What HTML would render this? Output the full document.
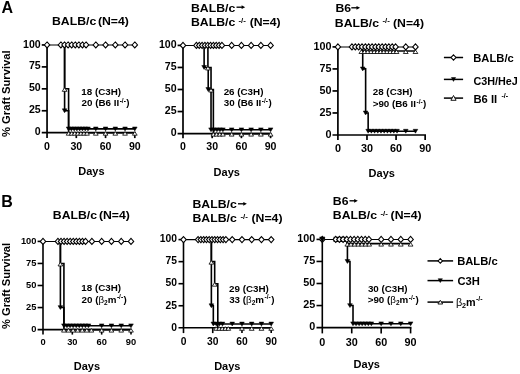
<!DOCTYPE html><html><head><meta charset="utf-8"><style>html,body{margin:0;padding:0;background:#fff;width:520px;height:374px;overflow:hidden;}body{position:relative;font-family:"Liberation Sans",sans-serif;}</style></head><body><svg width="520" height="374" viewBox="0 0 520 374" style="position:absolute;left:0;top:0;display:block;will-change:transform"><g stroke="#000" fill="none" stroke-linecap="butt"><line x1="47.05" y1="44.95" x2="47.05" y2="138.10" stroke-width="1.7"/><line x1="41.75" y1="132.70" x2="135.65" y2="132.70" stroke-width="1.7"/><line x1="41.75" y1="44.95" x2="47.05" y2="44.95" stroke-width="1.7"/><line x1="41.75" y1="66.89" x2="47.05" y2="66.89" stroke-width="1.7"/><line x1="41.75" y1="88.82" x2="47.05" y2="88.82" stroke-width="1.7"/><line x1="41.75" y1="110.76" x2="47.05" y2="110.76" stroke-width="1.7"/><line x1="76.30" y1="132.70" x2="76.30" y2="138.10" stroke-width="1.7"/><line x1="105.55" y1="132.70" x2="105.55" y2="138.10" stroke-width="1.7"/><line x1="134.80" y1="132.70" x2="134.80" y2="138.10" stroke-width="1.7"/><line x1="183.00" y1="45.40" x2="183.00" y2="138.20" stroke-width="1.7"/><line x1="177.60" y1="133.60" x2="271.45" y2="133.60" stroke-width="1.7"/><line x1="177.60" y1="45.40" x2="183.00" y2="45.40" stroke-width="1.7"/><line x1="177.60" y1="67.45" x2="183.00" y2="67.45" stroke-width="1.7"/><line x1="177.60" y1="89.50" x2="183.00" y2="89.50" stroke-width="1.7"/><line x1="177.60" y1="111.55" x2="183.00" y2="111.55" stroke-width="1.7"/><line x1="212.20" y1="133.60" x2="212.20" y2="138.20" stroke-width="1.7"/><line x1="241.40" y1="133.60" x2="241.40" y2="138.20" stroke-width="1.7"/><line x1="270.60" y1="133.60" x2="270.60" y2="138.20" stroke-width="1.7"/><line x1="337.90" y1="46.90" x2="337.90" y2="140.10" stroke-width="1.7"/><line x1="332.50" y1="135.00" x2="426.00" y2="135.00" stroke-width="1.7"/><line x1="332.50" y1="46.90" x2="337.90" y2="46.90" stroke-width="1.7"/><line x1="332.50" y1="68.92" x2="337.90" y2="68.92" stroke-width="1.7"/><line x1="332.50" y1="90.95" x2="337.90" y2="90.95" stroke-width="1.7"/><line x1="332.50" y1="112.97" x2="337.90" y2="112.97" stroke-width="1.7"/><line x1="366.98" y1="135.00" x2="366.98" y2="140.10" stroke-width="1.7"/><line x1="396.07" y1="135.00" x2="396.07" y2="140.10" stroke-width="1.7"/><line x1="425.15" y1="135.00" x2="425.15" y2="140.10" stroke-width="1.7"/><line x1="43.00" y1="241.40" x2="43.00" y2="334.60" stroke-width="1.6"/><line x1="37.60" y1="329.60" x2="131.85" y2="329.60" stroke-width="1.6"/><line x1="37.60" y1="241.40" x2="43.00" y2="241.40" stroke-width="1.6"/><line x1="37.60" y1="263.45" x2="43.00" y2="263.45" stroke-width="1.6"/><line x1="37.60" y1="285.50" x2="43.00" y2="285.50" stroke-width="1.6"/><line x1="37.60" y1="307.55" x2="43.00" y2="307.55" stroke-width="1.6"/><line x1="72.33" y1="329.60" x2="72.33" y2="334.60" stroke-width="1.6"/><line x1="101.67" y1="329.60" x2="101.67" y2="334.60" stroke-width="1.6"/><line x1="131.00" y1="329.60" x2="131.00" y2="334.60" stroke-width="1.6"/><line x1="183.50" y1="239.60" x2="183.50" y2="333.10" stroke-width="1.6"/><line x1="178.50" y1="327.80" x2="272.05" y2="327.80" stroke-width="1.6"/><line x1="178.50" y1="239.60" x2="183.50" y2="239.60" stroke-width="1.6"/><line x1="178.50" y1="261.65" x2="183.50" y2="261.65" stroke-width="1.6"/><line x1="178.50" y1="283.70" x2="183.50" y2="283.70" stroke-width="1.6"/><line x1="178.50" y1="305.75" x2="183.50" y2="305.75" stroke-width="1.6"/><line x1="212.73" y1="327.80" x2="212.73" y2="333.10" stroke-width="1.6"/><line x1="241.97" y1="327.80" x2="241.97" y2="333.10" stroke-width="1.6"/><line x1="271.20" y1="327.80" x2="271.20" y2="333.10" stroke-width="1.6"/><line x1="322.30" y1="239.40" x2="322.30" y2="333.40" stroke-width="1.6"/><line x1="316.50" y1="327.60" x2="411.45" y2="327.60" stroke-width="1.6"/><line x1="316.50" y1="239.40" x2="322.30" y2="239.40" stroke-width="1.6"/><line x1="316.50" y1="261.45" x2="322.30" y2="261.45" stroke-width="1.6"/><line x1="316.50" y1="283.50" x2="322.30" y2="283.50" stroke-width="1.6"/><line x1="316.50" y1="305.55" x2="322.30" y2="305.55" stroke-width="1.6"/><line x1="351.73" y1="327.60" x2="351.73" y2="333.40" stroke-width="1.6"/><line x1="381.17" y1="327.60" x2="381.17" y2="333.40" stroke-width="1.6"/><line x1="410.60" y1="327.60" x2="410.60" y2="333.40" stroke-width="1.6"/><line x1="47.05" y1="44.95" x2="134.80" y2="44.95" stroke-width="1.05"/><path d="M64.60,44.95 L64.60,110.76 L68.60,110.76 L68.60,128.90 L134.80,128.90" fill="none" stroke-width="1.6"/><path d="M64.60,44.95 L64.60,88.82 L68.60,88.82 L68.60,132.70 L134.80,132.70" fill="none" stroke-width="1.6"/><path d="M47.05,41.95 L49.80,44.95 L47.05,47.95 L44.30,44.95 Z" fill="#fff" stroke-width="1.05"/><path d="M60.89,41.95 L63.64,44.95 L60.89,47.95 L58.14,44.95 Z" fill="#fff" stroke-width="1.05"/><path d="M64.49,41.95 L67.24,44.95 L64.49,47.95 L61.74,44.95 Z" fill="#fff" stroke-width="1.05"/><path d="M68.08,41.95 L70.83,44.95 L68.08,47.95 L65.33,44.95 Z" fill="#fff" stroke-width="1.05"/><path d="M71.68,41.95 L74.43,44.95 L71.68,47.95 L68.93,44.95 Z" fill="#fff" stroke-width="1.05"/><path d="M75.27,41.95 L78.02,44.95 L75.27,47.95 L72.52,44.95 Z" fill="#fff" stroke-width="1.05"/><path d="M78.86,41.95 L81.61,44.95 L78.86,47.95 L76.11,44.95 Z" fill="#fff" stroke-width="1.05"/><path d="M82.46,41.95 L85.21,44.95 L82.46,47.95 L79.71,44.95 Z" fill="#fff" stroke-width="1.05"/><path d="M86.05,41.95 L88.80,44.95 L86.05,47.95 L83.30,44.95 Z" fill="#fff" stroke-width="1.05"/><path d="M95.80,41.95 L98.55,44.95 L95.80,47.95 L93.05,44.95 Z" fill="#fff" stroke-width="1.05"/><path d="M105.55,41.95 L108.30,44.95 L105.55,47.95 L102.80,44.95 Z" fill="#fff" stroke-width="1.05"/><path d="M115.30,41.95 L118.05,44.95 L115.30,47.95 L112.55,44.95 Z" fill="#fff" stroke-width="1.05"/><path d="M125.05,41.95 L127.80,44.95 L125.05,47.95 L122.30,44.95 Z" fill="#fff" stroke-width="1.05"/><path d="M134.80,41.95 L137.55,44.95 L134.80,47.95 L132.05,44.95 Z" fill="#fff" stroke-width="1.05"/><path d="M62.25,108.86 L66.95,108.86 L64.60,112.76 Z" fill="#000" stroke-width="0.5"/><path d="M66.25,127.00 L70.95,127.00 L68.60,130.90 Z" fill="#000" stroke-width="0.5"/><path d="M69.02,127.00 L73.72,127.00 L71.37,130.90 Z" fill="#000" stroke-width="0.5"/><path d="M71.79,127.00 L76.49,127.00 L74.14,130.90 Z" fill="#000" stroke-width="0.5"/><path d="M74.56,127.00 L79.26,127.00 L76.91,130.90 Z" fill="#000" stroke-width="0.5"/><path d="M77.33,127.00 L82.03,127.00 L79.68,130.90 Z" fill="#000" stroke-width="0.5"/><path d="M80.11,127.00 L84.81,127.00 L82.46,130.90 Z" fill="#000" stroke-width="0.5"/><path d="M82.88,127.00 L87.58,127.00 L85.23,130.90 Z" fill="#000" stroke-width="0.5"/><path d="M85.65,127.00 L90.35,127.00 L88.00,130.90 Z" fill="#000" stroke-width="0.5"/><path d="M93.45,127.00 L98.15,127.00 L95.80,130.90 Z" fill="#000" stroke-width="0.5"/><path d="M103.20,127.00 L107.90,127.00 L105.55,130.90 Z" fill="#000" stroke-width="0.5"/><path d="M112.95,127.00 L117.65,127.00 L115.30,130.90 Z" fill="#000" stroke-width="0.5"/><path d="M122.70,127.00 L127.40,127.00 L125.05,130.90 Z" fill="#000" stroke-width="0.5"/><path d="M132.45,127.00 L137.15,127.00 L134.80,130.90 Z" fill="#000" stroke-width="0.5"/><path d="M64.60,87.72 L67.00,91.32 L62.20,91.32 Z" fill="#fff" stroke-width="0.8"/><path d="M68.60,131.60 L71.00,135.20 L66.20,135.20 Z" fill="#fff" stroke-width="0.8"/><path d="M71.67,131.60 L74.07,135.20 L69.27,135.20 Z" fill="#fff" stroke-width="0.8"/><path d="M74.74,131.60 L77.14,135.20 L72.34,135.20 Z" fill="#fff" stroke-width="0.8"/><path d="M77.81,131.60 L80.21,135.20 L75.41,135.20 Z" fill="#fff" stroke-width="0.8"/><path d="M80.88,131.60 L83.28,135.20 L78.48,135.20 Z" fill="#fff" stroke-width="0.8"/><path d="M83.95,131.60 L86.35,135.20 L81.55,135.20 Z" fill="#fff" stroke-width="0.8"/><path d="M87.03,131.60 L89.43,135.20 L84.62,135.20 Z" fill="#fff" stroke-width="0.8"/><path d="M95.80,131.60 L98.20,135.20 L93.40,135.20 Z" fill="#fff" stroke-width="0.8"/><path d="M105.55,131.60 L107.95,135.20 L103.15,135.20 Z" fill="#fff" stroke-width="0.8"/><path d="M115.30,131.60 L117.70,135.20 L112.90,135.20 Z" fill="#fff" stroke-width="0.8"/><path d="M125.05,131.60 L127.45,135.20 L122.65,135.20 Z" fill="#fff" stroke-width="0.8"/><path d="M134.80,131.60 L137.20,135.20 L132.40,135.20 Z" fill="#fff" stroke-width="0.8"/><line x1="183.00" y1="45.40" x2="270.60" y2="45.40" stroke-width="1.05"/><path d="M204.12,45.40 L204.12,67.45 L208.21,67.45 L208.21,89.50 L211.03,89.50 L211.03,129.80 L270.60,129.80" fill="none" stroke-width="1.6"/><path d="M207.92,45.40 L207.92,67.45 L211.03,67.45 L211.03,89.50 L213.37,89.50 L213.37,133.60 L270.60,133.60" fill="none" stroke-width="1.6"/><path d="M183.00,42.40 L185.75,45.40 L183.00,48.40 L180.25,45.40 Z" fill="#fff" stroke-width="1.05"/><path d="M196.43,42.40 L199.18,45.40 L196.43,48.40 L193.68,45.40 Z" fill="#fff" stroke-width="1.05"/><path d="M199.27,42.40 L202.02,45.40 L199.27,48.40 L196.52,45.40 Z" fill="#fff" stroke-width="1.05"/><path d="M202.10,42.40 L204.85,45.40 L202.10,48.40 L199.35,45.40 Z" fill="#fff" stroke-width="1.05"/><path d="M204.93,42.40 L207.68,45.40 L204.93,48.40 L202.18,45.40 Z" fill="#fff" stroke-width="1.05"/><path d="M207.77,42.40 L210.52,45.40 L207.77,48.40 L205.02,45.40 Z" fill="#fff" stroke-width="1.05"/><path d="M210.60,42.40 L213.35,45.40 L210.60,48.40 L207.85,45.40 Z" fill="#fff" stroke-width="1.05"/><path d="M213.43,42.40 L216.18,45.40 L213.43,48.40 L210.68,45.40 Z" fill="#fff" stroke-width="1.05"/><path d="M216.27,42.40 L219.02,45.40 L216.27,48.40 L213.52,45.40 Z" fill="#fff" stroke-width="1.05"/><path d="M219.10,42.40 L221.85,45.40 L219.10,48.40 L216.35,45.40 Z" fill="#fff" stroke-width="1.05"/><path d="M221.93,42.40 L224.68,45.40 L221.93,48.40 L219.18,45.40 Z" fill="#fff" stroke-width="1.05"/><path d="M231.67,42.40 L234.42,45.40 L231.67,48.40 L228.92,45.40 Z" fill="#fff" stroke-width="1.05"/><path d="M241.40,42.40 L244.15,45.40 L241.40,48.40 L238.65,45.40 Z" fill="#fff" stroke-width="1.05"/><path d="M251.13,42.40 L253.88,45.40 L251.13,48.40 L248.38,45.40 Z" fill="#fff" stroke-width="1.05"/><path d="M260.87,42.40 L263.62,45.40 L260.87,48.40 L258.12,45.40 Z" fill="#fff" stroke-width="1.05"/><path d="M270.60,42.40 L273.35,45.40 L270.60,48.40 L267.85,45.40 Z" fill="#fff" stroke-width="1.05"/><path d="M201.77,65.55 L206.47,65.55 L204.12,69.45 Z" fill="#000" stroke-width="0.5"/><path d="M205.86,87.60 L210.56,87.60 L208.21,91.50 Z" fill="#000" stroke-width="0.5"/><path d="M208.68,127.90 L213.38,127.90 L211.03,131.80 Z" fill="#000" stroke-width="0.5"/><path d="M211.65,127.90 L216.35,127.90 L214.00,131.80 Z" fill="#000" stroke-width="0.5"/><path d="M214.62,127.90 L219.32,127.90 L216.97,131.80 Z" fill="#000" stroke-width="0.5"/><path d="M217.59,127.90 L222.29,127.90 L219.94,131.80 Z" fill="#000" stroke-width="0.5"/><path d="M220.56,127.90 L225.26,127.90 L222.91,131.80 Z" fill="#000" stroke-width="0.5"/><path d="M229.32,127.90 L234.02,127.90 L231.67,131.80 Z" fill="#000" stroke-width="0.5"/><path d="M239.05,127.90 L243.75,127.90 L241.40,131.80 Z" fill="#000" stroke-width="0.5"/><path d="M248.78,127.90 L253.48,127.90 L251.13,131.80 Z" fill="#000" stroke-width="0.5"/><path d="M258.52,127.90 L263.22,127.90 L260.87,131.80 Z" fill="#000" stroke-width="0.5"/><path d="M268.25,127.90 L272.95,127.90 L270.60,131.80 Z" fill="#000" stroke-width="0.5"/><path d="M207.92,66.35 L210.32,69.95 L205.52,69.95 Z" fill="#fff" stroke-width="0.8"/><path d="M211.03,88.40 L213.43,92.00 L208.63,92.00 Z" fill="#fff" stroke-width="0.8"/><path d="M213.37,132.50 L215.77,136.10 L210.97,136.10 Z" fill="#fff" stroke-width="0.8"/><path d="M216.55,132.50 L218.95,136.10 L214.15,136.10 Z" fill="#fff" stroke-width="0.8"/><path d="M219.73,132.50 L222.13,136.10 L217.33,136.10 Z" fill="#fff" stroke-width="0.8"/><path d="M222.91,132.50 L225.31,136.10 L220.51,136.10 Z" fill="#fff" stroke-width="0.8"/><path d="M231.67,132.50 L234.07,136.10 L229.27,136.10 Z" fill="#fff" stroke-width="0.8"/><path d="M241.40,132.50 L243.80,136.10 L239.00,136.10 Z" fill="#fff" stroke-width="0.8"/><path d="M251.13,132.50 L253.53,136.10 L248.73,136.10 Z" fill="#fff" stroke-width="0.8"/><path d="M260.87,132.50 L263.27,136.10 L258.47,136.10 Z" fill="#fff" stroke-width="0.8"/><path d="M270.60,132.50 L273.00,136.10 L268.20,136.10 Z" fill="#fff" stroke-width="0.8"/><line x1="337.90" y1="46.90" x2="415.46" y2="46.90" stroke-width="1.05"/><path d="M362.72,46.90 L362.72,68.92 L365.63,68.92 L365.63,112.97 L368.15,112.97 L368.15,131.20 L415.46,131.20" fill="none" stroke-width="1.6"/><path d="M360.97,51.00 L415.46,51.00" fill="none" stroke-width="1.6"/><path d="M337.90,43.90 L340.65,46.90 L337.90,49.90 L335.15,46.90 Z" fill="#fff" stroke-width="1.05"/><path d="M351.96,43.90 L354.71,46.90 L351.96,49.90 L349.21,46.90 Z" fill="#fff" stroke-width="1.05"/><path d="M355.31,43.90 L358.06,46.90 L355.31,49.90 L352.56,46.90 Z" fill="#fff" stroke-width="1.05"/><path d="M358.67,43.90 L361.42,46.90 L358.67,49.90 L355.92,46.90 Z" fill="#fff" stroke-width="1.05"/><path d="M362.02,43.90 L364.77,46.90 L362.02,49.90 L359.27,46.90 Z" fill="#fff" stroke-width="1.05"/><path d="M365.38,43.90 L368.13,46.90 L365.38,49.90 L362.63,46.90 Z" fill="#fff" stroke-width="1.05"/><path d="M368.74,43.90 L371.49,46.90 L368.74,49.90 L365.99,46.90 Z" fill="#fff" stroke-width="1.05"/><path d="M372.09,43.90 L374.84,46.90 L372.09,49.90 L369.34,46.90 Z" fill="#fff" stroke-width="1.05"/><path d="M375.45,43.90 L378.20,46.90 L375.45,49.90 L372.70,46.90 Z" fill="#fff" stroke-width="1.05"/><path d="M378.80,43.90 L381.55,46.90 L378.80,49.90 L376.05,46.90 Z" fill="#fff" stroke-width="1.05"/><path d="M382.16,43.90 L384.91,46.90 L382.16,49.90 L379.41,46.90 Z" fill="#fff" stroke-width="1.05"/><path d="M385.51,43.90 L388.26,46.90 L385.51,49.90 L382.76,46.90 Z" fill="#fff" stroke-width="1.05"/><path d="M388.87,43.90 L391.62,46.90 L388.87,49.90 L386.12,46.90 Z" fill="#fff" stroke-width="1.05"/><path d="M392.23,43.90 L394.98,46.90 L392.23,49.90 L389.48,46.90 Z" fill="#fff" stroke-width="1.05"/><path d="M395.58,43.90 L398.33,46.90 L395.58,49.90 L392.83,46.90 Z" fill="#fff" stroke-width="1.05"/><path d="M405.76,43.90 L408.51,46.90 L405.76,49.90 L403.01,46.90 Z" fill="#fff" stroke-width="1.05"/><path d="M415.46,43.90 L418.21,46.90 L415.46,49.90 L412.71,46.90 Z" fill="#fff" stroke-width="1.05"/><path d="M360.37,67.02 L365.07,67.02 L362.72,70.92 Z" fill="#000" stroke-width="0.5"/><path d="M363.28,111.07 L367.98,111.07 L365.63,114.97 Z" fill="#000" stroke-width="0.5"/><path d="M365.80,129.30 L370.50,129.30 L368.15,133.20 Z" fill="#000" stroke-width="0.5"/><path d="M369.01,129.30 L373.71,129.30 L371.36,133.20 Z" fill="#000" stroke-width="0.5"/><path d="M372.22,129.30 L376.92,129.30 L374.57,133.20 Z" fill="#000" stroke-width="0.5"/><path d="M375.43,129.30 L380.13,129.30 L377.78,133.20 Z" fill="#000" stroke-width="0.5"/><path d="M378.64,129.30 L383.34,129.30 L380.99,133.20 Z" fill="#000" stroke-width="0.5"/><path d="M381.85,129.30 L386.55,129.30 L384.20,133.20 Z" fill="#000" stroke-width="0.5"/><path d="M385.06,129.30 L389.76,129.30 L387.41,133.20 Z" fill="#000" stroke-width="0.5"/><path d="M388.27,129.30 L392.97,129.30 L390.62,133.20 Z" fill="#000" stroke-width="0.5"/><path d="M391.48,129.30 L396.18,129.30 L393.83,133.20 Z" fill="#000" stroke-width="0.5"/><path d="M394.69,129.30 L399.39,129.30 L397.04,133.20 Z" fill="#000" stroke-width="0.5"/><path d="M403.41,129.30 L408.11,129.30 L405.76,133.20 Z" fill="#000" stroke-width="0.5"/><path d="M413.11,129.30 L417.81,129.30 L415.46,133.20 Z" fill="#000" stroke-width="0.5"/><path d="M361.36,49.90 L363.76,53.50 L358.96,53.50 Z" fill="#fff" stroke-width="0.8"/><path d="M364.56,49.90 L366.96,53.50 L362.16,53.50 Z" fill="#fff" stroke-width="0.8"/><path d="M367.76,49.90 L370.16,53.50 L365.36,53.50 Z" fill="#fff" stroke-width="0.8"/><path d="M370.96,49.90 L373.36,53.50 L368.56,53.50 Z" fill="#fff" stroke-width="0.8"/><path d="M374.16,49.90 L376.56,53.50 L371.76,53.50 Z" fill="#fff" stroke-width="0.8"/><path d="M377.36,49.90 L379.76,53.50 L374.96,53.50 Z" fill="#fff" stroke-width="0.8"/><path d="M380.56,49.90 L382.96,53.50 L378.16,53.50 Z" fill="#fff" stroke-width="0.8"/><path d="M383.75,49.90 L386.15,53.50 L381.35,53.50 Z" fill="#fff" stroke-width="0.8"/><path d="M386.95,49.90 L389.35,53.50 L384.55,53.50 Z" fill="#fff" stroke-width="0.8"/><path d="M390.15,49.90 L392.55,53.50 L387.75,53.50 Z" fill="#fff" stroke-width="0.8"/><path d="M393.35,49.90 L395.75,53.50 L390.95,53.50 Z" fill="#fff" stroke-width="0.8"/><path d="M396.55,49.90 L398.95,53.50 L394.15,53.50 Z" fill="#fff" stroke-width="0.8"/><path d="M405.76,49.90 L408.16,53.50 L403.36,53.50 Z" fill="#fff" stroke-width="0.8"/><path d="M415.46,49.90 L417.86,53.50 L413.06,53.50 Z" fill="#fff" stroke-width="0.8"/><line x1="43.00" y1="241.40" x2="131.00" y2="241.40" stroke-width="1.05"/><path d="M60.40,241.40 L60.40,307.55 L63.92,307.55 L63.92,325.80 L131.00,325.80" fill="none" stroke-width="1.6"/><path d="M60.40,241.40 L60.40,263.45 L63.92,263.45 L63.92,329.60 L131.00,329.60" fill="none" stroke-width="1.6"/><path d="M43.00,238.40 L45.75,241.40 L43.00,244.40 L40.25,241.40 Z" fill="#fff" stroke-width="1.05"/><path d="M57.96,238.40 L60.71,241.40 L57.96,244.40 L55.21,241.40 Z" fill="#fff" stroke-width="1.05"/><path d="M61.02,238.40 L63.77,241.40 L61.02,244.40 L58.27,241.40 Z" fill="#fff" stroke-width="1.05"/><path d="M64.09,238.40 L66.84,241.40 L64.09,244.40 L61.34,241.40 Z" fill="#fff" stroke-width="1.05"/><path d="M67.15,238.40 L69.90,241.40 L67.15,244.40 L64.40,241.40 Z" fill="#fff" stroke-width="1.05"/><path d="M70.21,238.40 L72.96,241.40 L70.21,244.40 L67.46,241.40 Z" fill="#fff" stroke-width="1.05"/><path d="M73.28,238.40 L76.03,241.40 L73.28,244.40 L70.53,241.40 Z" fill="#fff" stroke-width="1.05"/><path d="M76.34,238.40 L79.09,241.40 L76.34,244.40 L73.59,241.40 Z" fill="#fff" stroke-width="1.05"/><path d="M79.41,238.40 L82.16,241.40 L79.41,244.40 L76.66,241.40 Z" fill="#fff" stroke-width="1.05"/><path d="M82.47,238.40 L85.22,241.40 L82.47,244.40 L79.72,241.40 Z" fill="#fff" stroke-width="1.05"/><path d="M85.53,238.40 L88.28,241.40 L85.53,244.40 L82.78,241.40 Z" fill="#fff" stroke-width="1.05"/><path d="M91.89,238.40 L94.64,241.40 L91.89,244.40 L89.14,241.40 Z" fill="#fff" stroke-width="1.05"/><path d="M101.67,238.40 L104.42,241.40 L101.67,244.40 L98.92,241.40 Z" fill="#fff" stroke-width="1.05"/><path d="M111.44,238.40 L114.19,241.40 L111.44,244.40 L108.69,241.40 Z" fill="#fff" stroke-width="1.05"/><path d="M121.22,238.40 L123.97,241.40 L121.22,244.40 L118.47,241.40 Z" fill="#fff" stroke-width="1.05"/><path d="M131.00,238.40 L133.75,241.40 L131.00,244.40 L128.25,241.40 Z" fill="#fff" stroke-width="1.05"/><path d="M58.05,305.65 L62.75,305.65 L60.40,309.55 Z" fill="#000" stroke-width="0.5"/><path d="M61.57,323.90 L66.27,323.90 L63.92,327.80 Z" fill="#000" stroke-width="0.5"/><path d="M64.64,323.90 L69.34,323.90 L66.99,327.80 Z" fill="#000" stroke-width="0.5"/><path d="M67.71,323.90 L72.41,323.90 L70.06,327.80 Z" fill="#000" stroke-width="0.5"/><path d="M70.78,323.90 L75.48,323.90 L73.13,327.80 Z" fill="#000" stroke-width="0.5"/><path d="M73.85,323.90 L78.55,323.90 L76.20,327.80 Z" fill="#000" stroke-width="0.5"/><path d="M76.91,323.90 L81.61,323.90 L79.26,327.80 Z" fill="#000" stroke-width="0.5"/><path d="M79.98,323.90 L84.68,323.90 L82.33,327.80 Z" fill="#000" stroke-width="0.5"/><path d="M83.05,323.90 L87.75,323.90 L85.40,327.80 Z" fill="#000" stroke-width="0.5"/><path d="M86.12,323.90 L90.82,323.90 L88.47,327.80 Z" fill="#000" stroke-width="0.5"/><path d="M99.32,323.90 L104.02,323.90 L101.67,327.80 Z" fill="#000" stroke-width="0.5"/><path d="M109.09,323.90 L113.79,323.90 L111.44,327.80 Z" fill="#000" stroke-width="0.5"/><path d="M118.87,323.90 L123.57,323.90 L121.22,327.80 Z" fill="#000" stroke-width="0.5"/><path d="M128.65,323.90 L133.35,323.90 L131.00,327.80 Z" fill="#000" stroke-width="0.5"/><path d="M60.40,262.35 L62.80,265.95 L58.00,265.95 Z" fill="#fff" stroke-width="0.8"/><path d="M63.92,328.50 L66.32,332.10 L61.52,332.10 Z" fill="#fff" stroke-width="0.8"/><path d="M68.50,328.50 L70.90,332.10 L66.10,332.10 Z" fill="#fff" stroke-width="0.8"/><path d="M73.08,328.50 L75.48,332.10 L70.68,332.10 Z" fill="#fff" stroke-width="0.8"/><path d="M77.66,328.50 L80.06,332.10 L75.26,332.10 Z" fill="#fff" stroke-width="0.8"/><path d="M82.24,328.50 L84.64,332.10 L79.84,332.10 Z" fill="#fff" stroke-width="0.8"/><path d="M86.82,328.50 L89.22,332.10 L84.42,332.10 Z" fill="#fff" stroke-width="0.8"/><path d="M91.40,328.50 L93.80,332.10 L89.00,332.10 Z" fill="#fff" stroke-width="0.8"/><path d="M101.67,328.50 L104.07,332.10 L99.27,332.10 Z" fill="#fff" stroke-width="0.8"/><path d="M111.44,328.50 L113.84,332.10 L109.04,332.10 Z" fill="#fff" stroke-width="0.8"/><path d="M121.22,328.50 L123.62,332.10 L118.82,332.10 Z" fill="#fff" stroke-width="0.8"/><path d="M131.00,328.50 L133.40,332.10 L128.60,332.10 Z" fill="#fff" stroke-width="0.8"/><line x1="183.50" y1="239.60" x2="271.20" y2="239.60" stroke-width="1.05"/><path d="M211.37,239.60 L211.37,305.75 L213.32,305.75 L213.32,324.00 L271.20,324.00" fill="none" stroke-width="1.6"/><path d="M211.37,239.60 L211.37,261.65 L214.68,261.65 L214.68,283.70 L217.80,283.70 L217.80,327.80 L271.20,327.80" fill="none" stroke-width="1.6"/><path d="M183.50,236.60 L186.25,239.60 L183.50,242.60 L180.75,239.60 Z" fill="#fff" stroke-width="1.05"/><path d="M198.12,236.60 L200.87,239.60 L198.12,242.60 L195.37,239.60 Z" fill="#fff" stroke-width="1.05"/><path d="M200.89,236.60 L203.64,239.60 L200.89,242.60 L198.14,239.60 Z" fill="#fff" stroke-width="1.05"/><path d="M203.67,236.60 L206.42,239.60 L203.67,242.60 L200.92,239.60 Z" fill="#fff" stroke-width="1.05"/><path d="M206.45,236.60 L209.20,239.60 L206.45,242.60 L203.70,239.60 Z" fill="#fff" stroke-width="1.05"/><path d="M209.23,236.60 L211.98,239.60 L209.23,242.60 L206.48,239.60 Z" fill="#fff" stroke-width="1.05"/><path d="M212.00,236.60 L214.75,239.60 L212.00,242.60 L209.25,239.60 Z" fill="#fff" stroke-width="1.05"/><path d="M214.78,236.60 L217.53,239.60 L214.78,242.60 L212.03,239.60 Z" fill="#fff" stroke-width="1.05"/><path d="M217.56,236.60 L220.31,239.60 L217.56,242.60 L214.81,239.60 Z" fill="#fff" stroke-width="1.05"/><path d="M220.33,236.60 L223.08,239.60 L220.33,242.60 L217.58,239.60 Z" fill="#fff" stroke-width="1.05"/><path d="M223.11,236.60 L225.86,239.60 L223.11,242.60 L220.36,239.60 Z" fill="#fff" stroke-width="1.05"/><path d="M225.89,236.60 L228.64,239.60 L225.89,242.60 L223.14,239.60 Z" fill="#fff" stroke-width="1.05"/><path d="M232.22,236.60 L234.97,239.60 L232.22,242.60 L229.47,239.60 Z" fill="#fff" stroke-width="1.05"/><path d="M241.97,236.60 L244.72,239.60 L241.97,242.60 L239.22,239.60 Z" fill="#fff" stroke-width="1.05"/><path d="M251.71,236.60 L254.46,239.60 L251.71,242.60 L248.96,239.60 Z" fill="#fff" stroke-width="1.05"/><path d="M261.46,236.60 L264.21,239.60 L261.46,242.60 L258.71,239.60 Z" fill="#fff" stroke-width="1.05"/><path d="M271.20,236.60 L273.95,239.60 L271.20,242.60 L268.45,239.60 Z" fill="#fff" stroke-width="1.05"/><path d="M209.02,303.85 L213.72,303.85 L211.37,307.75 Z" fill="#000" stroke-width="0.5"/><path d="M210.97,322.10 L215.67,322.10 L213.32,326.00 Z" fill="#000" stroke-width="0.5"/><path d="M214.02,322.10 L218.72,322.10 L216.37,326.00 Z" fill="#000" stroke-width="0.5"/><path d="M217.07,322.10 L221.77,322.10 L219.42,326.00 Z" fill="#000" stroke-width="0.5"/><path d="M220.13,322.10 L224.83,322.10 L222.48,326.00 Z" fill="#000" stroke-width="0.5"/><path d="M229.87,322.10 L234.57,322.10 L232.22,326.00 Z" fill="#000" stroke-width="0.5"/><path d="M239.62,322.10 L244.32,322.10 L241.97,326.00 Z" fill="#000" stroke-width="0.5"/><path d="M249.36,322.10 L254.06,322.10 L251.71,326.00 Z" fill="#000" stroke-width="0.5"/><path d="M259.11,322.10 L263.81,322.10 L261.46,326.00 Z" fill="#000" stroke-width="0.5"/><path d="M268.85,322.10 L273.55,322.10 L271.20,326.00 Z" fill="#000" stroke-width="0.5"/><path d="M211.37,260.55 L213.77,264.15 L208.97,264.15 Z" fill="#fff" stroke-width="0.8"/><path d="M214.68,282.60 L217.08,286.20 L212.28,286.20 Z" fill="#fff" stroke-width="0.8"/><path d="M216.14,326.70 L218.54,330.30 L213.74,330.30 Z" fill="#fff" stroke-width="0.8"/><path d="M219.19,326.70 L221.59,330.30 L216.79,330.30 Z" fill="#fff" stroke-width="0.8"/><path d="M222.23,326.70 L224.63,330.30 L219.83,330.30 Z" fill="#fff" stroke-width="0.8"/><path d="M225.28,326.70 L227.68,330.30 L222.88,330.30 Z" fill="#fff" stroke-width="0.8"/><path d="M228.32,326.70 L230.72,330.30 L225.92,330.30 Z" fill="#fff" stroke-width="0.8"/><path d="M241.97,326.70 L244.37,330.30 L239.57,330.30 Z" fill="#fff" stroke-width="0.8"/><path d="M251.71,326.70 L254.11,330.30 L249.31,330.30 Z" fill="#fff" stroke-width="0.8"/><path d="M261.46,326.70 L263.86,330.30 L259.06,330.30 Z" fill="#fff" stroke-width="0.8"/><path d="M271.20,326.70 L273.60,330.30 L268.80,330.30 Z" fill="#fff" stroke-width="0.8"/><rect x="333.6" y="236.8" width="12.6" height="5.2" fill="#000" stroke="none"/><line x1="322.30" y1="239.40" x2="410.60" y2="239.40" stroke-width="1.05"/><path d="M347.42,239.40 L347.42,261.45 L349.97,261.45 L349.97,305.55 L353.01,305.55 L353.01,323.80 L410.60,323.80" fill="none" stroke-width="1.6"/><path d="M346.34,243.60 L410.60,243.60" fill="none" stroke-width="1.6"/><path d="M322.30,236.40 L325.05,239.40 L322.30,242.40 L319.55,239.40 Z" fill="#fff" stroke-width="1.05"/><path d="M335.74,236.40 L338.49,239.40 L335.74,242.40 L332.99,239.40 Z" fill="#fff" stroke-width="1.05"/><path d="M339.43,236.40 L342.18,239.40 L339.43,242.40 L336.68,239.40 Z" fill="#fff" stroke-width="1.05"/><path d="M343.11,236.40 L345.86,239.40 L343.11,242.40 L340.36,239.40 Z" fill="#fff" stroke-width="1.05"/><path d="M346.80,236.40 L349.55,239.40 L346.80,242.40 L344.05,239.40 Z" fill="#fff" stroke-width="1.05"/><path d="M350.48,236.40 L353.23,239.40 L350.48,242.40 L347.73,239.40 Z" fill="#fff" stroke-width="1.05"/><path d="M354.16,236.40 L356.91,239.40 L354.16,242.40 L351.41,239.40 Z" fill="#fff" stroke-width="1.05"/><path d="M357.85,236.40 L360.60,239.40 L357.85,242.40 L355.10,239.40 Z" fill="#fff" stroke-width="1.05"/><path d="M361.53,236.40 L364.28,239.40 L361.53,242.40 L358.78,239.40 Z" fill="#fff" stroke-width="1.05"/><path d="M365.22,236.40 L367.97,239.40 L365.22,242.40 L362.47,239.40 Z" fill="#fff" stroke-width="1.05"/><path d="M368.90,236.40 L371.65,239.40 L368.90,242.40 L366.15,239.40 Z" fill="#fff" stroke-width="1.05"/><path d="M381.17,236.40 L383.92,239.40 L381.17,242.40 L378.42,239.40 Z" fill="#fff" stroke-width="1.05"/><path d="M390.98,236.40 L393.73,239.40 L390.98,242.40 L388.23,239.40 Z" fill="#fff" stroke-width="1.05"/><path d="M400.79,236.40 L403.54,239.40 L400.79,242.40 L398.04,239.40 Z" fill="#fff" stroke-width="1.05"/><path d="M410.60,236.40 L413.35,239.40 L410.60,242.40 L407.85,239.40 Z" fill="#fff" stroke-width="1.05"/><path d="M345.07,259.55 L349.77,259.55 L347.42,263.45 Z" fill="#000" stroke-width="0.5"/><path d="M347.62,303.65 L352.32,303.65 L349.97,307.55 Z" fill="#000" stroke-width="0.5"/><path d="M350.66,321.90 L355.36,321.90 L353.01,325.80 Z" fill="#000" stroke-width="0.5"/><path d="M353.72,321.90 L358.42,321.90 L356.07,325.80 Z" fill="#000" stroke-width="0.5"/><path d="M356.77,321.90 L361.47,321.90 L359.12,325.80 Z" fill="#000" stroke-width="0.5"/><path d="M359.83,321.90 L364.53,321.90 L362.18,325.80 Z" fill="#000" stroke-width="0.5"/><path d="M362.89,321.90 L367.59,321.90 L365.24,325.80 Z" fill="#000" stroke-width="0.5"/><path d="M365.95,321.90 L370.65,321.90 L368.30,325.80 Z" fill="#000" stroke-width="0.5"/><path d="M369.01,321.90 L373.71,321.90 L371.36,325.80 Z" fill="#000" stroke-width="0.5"/><path d="M378.82,321.90 L383.52,321.90 L381.17,325.80 Z" fill="#000" stroke-width="0.5"/><path d="M388.63,321.90 L393.33,321.90 L390.98,325.80 Z" fill="#000" stroke-width="0.5"/><path d="M398.44,321.90 L403.14,321.90 L400.79,325.80 Z" fill="#000" stroke-width="0.5"/><path d="M408.25,321.90 L412.95,321.90 L410.60,325.80 Z" fill="#000" stroke-width="0.5"/><path d="M347.32,242.50 L349.72,246.10 L344.92,246.10 Z" fill="#fff" stroke-width="0.8"/><path d="M350.96,242.50 L353.36,246.10 L348.56,246.10 Z" fill="#fff" stroke-width="0.8"/><path d="M354.61,242.50 L357.01,246.10 L352.21,246.10 Z" fill="#fff" stroke-width="0.8"/><path d="M358.26,242.50 L360.66,246.10 L355.86,246.10 Z" fill="#fff" stroke-width="0.8"/><path d="M361.90,242.50 L364.30,246.10 L359.50,246.10 Z" fill="#fff" stroke-width="0.8"/><path d="M365.55,242.50 L367.95,246.10 L363.15,246.10 Z" fill="#fff" stroke-width="0.8"/><path d="M369.20,242.50 L371.60,246.10 L366.80,246.10 Z" fill="#fff" stroke-width="0.8"/><path d="M381.17,242.50 L383.57,246.10 L378.77,246.10 Z" fill="#fff" stroke-width="0.8"/><path d="M390.98,242.50 L393.38,246.10 L388.58,246.10 Z" fill="#fff" stroke-width="0.8"/><path d="M400.79,242.50 L403.19,246.10 L398.39,246.10 Z" fill="#fff" stroke-width="0.8"/><path d="M410.60,242.50 L413.00,246.10 L408.20,246.10 Z" fill="#fff" stroke-width="0.8"/><path d="M319.60,237.00 L325.00,237.00 L322.30,242.20 Z" fill="#000" stroke-width="0.5"/><line x1="236.50" y1="7.20" x2="242.70" y2="7.20" stroke-width="1.35"/><path d="M241.60,5.30 L245.20,7.20 L241.60,9.10 Z" fill="#000" stroke="none"/><line x1="351.30" y1="7.80" x2="357.60" y2="7.80" stroke-width="1.35"/><path d="M356.50,5.90 L360.10,7.80 L356.50,9.70 Z" fill="#000" stroke="none"/><line x1="238.00" y1="203.80" x2="244.40" y2="203.80" stroke-width="1.35"/><path d="M243.30,201.90 L246.90,203.80 L243.30,205.70 Z" fill="#000" stroke="none"/><line x1="349.50" y1="200.80" x2="355.30" y2="200.80" stroke-width="1.35"/><path d="M354.20,198.90 L357.80,200.80 L354.20,202.70 Z" fill="#000" stroke="none"/><line x1="443.90" y1="57.50" x2="463.10" y2="57.50" stroke-width="1.5"/><line x1="443.90" y1="79.40" x2="463.10" y2="79.40" stroke-width="1.5"/><line x1="443.90" y1="98.10" x2="463.10" y2="98.10" stroke-width="1.5"/><path d="M453.50,54.80 L456.00,57.50 L453.50,60.20 L451.00,57.50 Z" fill="#fff" stroke-width="1.05"/><path d="M451.40,77.50 L455.60,77.50 L453.50,81.40 Z" fill="#000" stroke-width="0.5"/><path d="M453.50,95.50 L456.10,100.30 L450.90,100.30 Z" fill="#fff" stroke-width="0.9"/><line x1="427.50" y1="260.90" x2="453.10" y2="260.90" stroke-width="1.5"/><line x1="427.50" y1="280.60" x2="453.10" y2="280.60" stroke-width="1.5"/><line x1="427.50" y1="302.10" x2="453.10" y2="302.10" stroke-width="1.5"/><path d="M440.30,258.50 L442.50,260.90 L440.30,263.30 L438.10,260.90 Z" fill="#fff" stroke-width="1.05"/><path d="M438.20,278.70 L442.40,278.70 L440.30,282.60 Z" fill="#000" stroke-width="0.5"/><path d="M440.30,300.30 L442.70,304.00 L437.90,304.00 Z" fill="#fff" stroke-width="0.9"/></g><g fill="#000" font-family="'Liberation Sans', sans-serif" font-weight="bold"><text x="40.75" y="47.55" font-size="10.6" text-anchor="end">100</text><text x="40.75" y="69.48" font-size="10.6" text-anchor="end">75</text><text x="40.75" y="91.42" font-size="10.6" text-anchor="end">50</text><text x="40.75" y="113.36" font-size="10.6" text-anchor="end">25</text><text x="40.75" y="135.30" font-size="10.6" text-anchor="end">0</text><text x="47.05" y="149.60" font-size="10.6" text-anchor="middle">0</text><text x="76.30" y="149.60" font-size="10.6" text-anchor="middle">30</text><text x="105.55" y="149.60" font-size="10.6" text-anchor="middle">60</text><text x="134.80" y="149.60" font-size="10.6" text-anchor="middle">90</text><text x="176.60" y="48.00" font-size="10.6" text-anchor="end">100</text><text x="176.60" y="70.05" font-size="10.6" text-anchor="end">75</text><text x="176.60" y="92.10" font-size="10.6" text-anchor="end">50</text><text x="176.60" y="114.15" font-size="10.6" text-anchor="end">25</text><text x="176.60" y="136.20" font-size="10.6" text-anchor="end">0</text><text x="183.00" y="150.40" font-size="10.6" text-anchor="middle">0</text><text x="212.20" y="150.40" font-size="10.6" text-anchor="middle">30</text><text x="241.40" y="150.40" font-size="10.6" text-anchor="middle">60</text><text x="270.60" y="150.40" font-size="10.6" text-anchor="middle">90</text><text x="331.50" y="49.55" font-size="10.8" text-anchor="end">100</text><text x="331.50" y="71.57" font-size="10.8" text-anchor="end">75</text><text x="331.50" y="93.60" font-size="10.8" text-anchor="end">50</text><text x="331.50" y="115.62" font-size="10.8" text-anchor="end">25</text><text x="331.50" y="137.65" font-size="10.8" text-anchor="end">0</text><text x="337.90" y="151.60" font-size="10.8" text-anchor="middle">0</text><text x="366.98" y="151.60" font-size="10.8" text-anchor="middle">30</text><text x="396.07" y="151.60" font-size="10.8" text-anchor="middle">60</text><text x="425.15" y="151.60" font-size="10.8" text-anchor="middle">90</text><text x="36.40" y="243.68" font-size="9.3" text-anchor="end">100</text><text x="36.40" y="265.73" font-size="9.3" text-anchor="end">75</text><text x="36.40" y="287.78" font-size="9.3" text-anchor="end">50</text><text x="36.40" y="309.83" font-size="9.3" text-anchor="end">25</text><text x="36.40" y="331.88" font-size="9.3" text-anchor="end">0</text><text x="43.00" y="345.30" font-size="9.3" text-anchor="middle">0</text><text x="72.33" y="345.30" font-size="9.3" text-anchor="middle">30</text><text x="101.67" y="345.30" font-size="9.3" text-anchor="middle">60</text><text x="131.00" y="345.30" font-size="9.3" text-anchor="middle">90</text><text x="177.00" y="242.38" font-size="10.3" text-anchor="end">100</text><text x="177.00" y="264.43" font-size="10.3" text-anchor="end">75</text><text x="177.00" y="286.48" font-size="10.3" text-anchor="end">50</text><text x="177.00" y="308.53" font-size="10.3" text-anchor="end">25</text><text x="177.00" y="330.58" font-size="10.3" text-anchor="end">0</text><text x="183.50" y="344.90" font-size="10.3" text-anchor="middle">0</text><text x="212.73" y="344.90" font-size="10.3" text-anchor="middle">30</text><text x="241.97" y="344.90" font-size="10.3" text-anchor="middle">60</text><text x="271.20" y="344.90" font-size="10.3" text-anchor="middle">90</text><text x="315.20" y="242.21" font-size="10.8" text-anchor="end">100</text><text x="315.20" y="264.26" font-size="10.8" text-anchor="end">75</text><text x="315.20" y="286.31" font-size="10.8" text-anchor="end">50</text><text x="315.20" y="308.36" font-size="10.8" text-anchor="end">25</text><text x="315.20" y="330.41" font-size="10.8" text-anchor="end">0</text><text x="322.30" y="345.60" font-size="10.8" text-anchor="middle">0</text><text x="351.73" y="345.60" font-size="10.8" text-anchor="middle">30</text><text x="381.17" y="345.60" font-size="10.8" text-anchor="middle">60</text><text x="410.60" y="345.60" font-size="10.8" text-anchor="middle">90</text><text x="1.60" y="12.60" font-size="16" text-anchor="start">A</text><text x="1.23" y="207.00" font-size="16" text-anchor="start">B</text><text transform="translate(51.98,24.90) scale(1.04,1)" font-size="11.8" text-anchor="start">BALB/c</text><text transform="translate(97.89,24.90) scale(1.04,1)" font-size="11.8" text-anchor="start">(N=4)</text><text transform="translate(190.98,11.50) scale(1.04,1)" font-size="11.8" text-anchor="start">BALB/c</text><text transform="translate(190.98,26.00) scale(1.04,1)" font-size="11.8" text-anchor="start">BALB/c</text><text transform="translate(238.49,22.51) scale(1.04,1)" font-size="7.6" text-anchor="start">-/-</text><text transform="translate(249.69,26.00) scale(1.04,1)" font-size="11.8" text-anchor="start">(N=4)</text><text transform="translate(335.38,11.80) scale(1.04,1)" font-size="11.8" text-anchor="start">B6</text><text transform="translate(334.78,26.60) scale(1.04,1)" font-size="11.8" text-anchor="start">BALB/c</text><text transform="translate(382.49,23.01) scale(1.04,1)" font-size="7.6" text-anchor="start">-/-</text><text transform="translate(392.99,26.60) scale(1.04,1)" font-size="11.8" text-anchor="start">(N=4)</text><text transform="translate(52.78,219.30) scale(1.04,1)" font-size="11.8" text-anchor="start">BALB/c</text><text transform="translate(98.89,219.30) scale(1.04,1)" font-size="11.8" text-anchor="start">(N=4)</text><text transform="translate(192.48,208.00) scale(1.04,1)" font-size="11.8" text-anchor="start">BALB/c</text><text transform="translate(192.48,222.40) scale(1.04,1)" font-size="11.8" text-anchor="start">BALB/c</text><text transform="translate(240.49,218.91) scale(1.04,1)" font-size="7.6" text-anchor="start">-/-</text><text transform="translate(251.49,222.40) scale(1.04,1)" font-size="11.8" text-anchor="start">(N=4)</text><text transform="translate(332.78,204.65) scale(1.04,1)" font-size="11.8" text-anchor="start">B6</text><text transform="translate(332.78,219.30) scale(1.04,1)" font-size="11.8" text-anchor="start">BALB/c</text><text transform="translate(380.39,215.81) scale(1.04,1)" font-size="7.6" text-anchor="start">-/-</text><text transform="translate(390.59,219.30) scale(1.04,1)" font-size="11.8" text-anchor="start">(N=4)</text><text x="0.00" y="0.00" font-size="11.23" text-anchor="middle" transform="translate(10.4,93.65) rotate(-90)">% Graft Survival</text><text x="0.00" y="0.00" font-size="11.17" text-anchor="middle" transform="translate(10.4,285.95) rotate(-90)">% Graft Survival</text><text x="78.21" y="174.80" font-size="11">Days</text><text x="213.61" y="175.80" font-size="11">Days</text><text x="368.61" y="177.10" font-size="11">Days</text><text x="73.76" y="369.80" font-size="11">Days</text><text x="214.16" y="370.00" font-size="11">Days</text><text x="353.61" y="367.50" font-size="11">Days</text><text x="81.28" y="94.70" font-size="9.8" text-anchor="start">18 (C3H)</text><text x="81.56" y="106.00" font-size="9.8" text-anchor="start">20 (B6 II<tspan font-size="6.6" dy="-3.4" dx="0.5">-/-</tspan><tspan dy="3.4" dx="0.4">)</tspan></text><text x="223.66" y="94.90" font-size="9.8" text-anchor="start">26 (C3H)</text><text x="223.78" y="106.20" font-size="9.8" text-anchor="start">30 (B6 II<tspan font-size="6.6" dy="-3.4" dx="0.5">-/-</tspan><tspan dy="3.4" dx="0.4">)</tspan></text><text x="372.76" y="95.30" font-size="9.8" text-anchor="start">28 (C3H)</text><text x="372.69" y="106.90" font-size="9.8" text-anchor="start">&gt;90 (B6 II<tspan font-size="6.6" dy="-3.4" dx="0.5">-/-</tspan><tspan dy="3.4" dx="0.4">)</tspan></text><text x="81.28" y="291.40" font-size="9.8" text-anchor="start">18 (C3H)</text><text x="81.56" y="302.50" font-size="9.8" text-anchor="start">20 (<tspan font-weight="normal">&#946;</tspan><tspan font-size="6.5" dy="2.2">2</tspan><tspan dy="-2.2">m</tspan><tspan font-size="6.6" dy="-3.4" dx="0.5">-/-</tspan><tspan dy="3.4" dx="0.4">)</tspan></text><text x="229.06" y="291.80" font-size="9.8" text-anchor="start">29 (C3H)</text><text x="229.18" y="302.80" font-size="9.8" text-anchor="start">33 (<tspan font-weight="normal">&#946;</tspan><tspan font-size="6.5" dy="2.2">2</tspan><tspan dy="-2.2">m</tspan><tspan font-size="6.6" dy="-3.4" dx="0.5">-/-</tspan><tspan dy="3.4" dx="0.4">)</tspan></text><text x="367.88" y="292.40" font-size="9.8" text-anchor="start">30 (C3H)</text><text x="367.69" y="303.10" font-size="9.8" text-anchor="start">&gt;90 (<tspan font-weight="normal">&#946;</tspan><tspan font-size="6.5" dy="2.2">2</tspan><tspan dy="-2.2">m</tspan><tspan font-size="6.6" dy="-3.4" dx="0.5">-/-</tspan><tspan dy="3.4" dx="0.4">)</tspan></text><text transform="translate(473.25,61.50) scale(1.04,1)" font-size="10.8" text-anchor="start">BALB/c</text><text x="473.46" y="84.50" font-size="10.8" text-anchor="start">C3H/HeJ</text><text transform="translate(473.45,102.80) scale(1.04,1)" font-size="10.8" text-anchor="start">B6 II</text><text x="501.53" y="98.00" font-size="7.0" text-anchor="start">-/-</text><text transform="translate(457.15,264.70) scale(1.04,1)" font-size="10.8" text-anchor="start">BALB/c</text><text transform="translate(457.44,285.30) scale(1.04,1)" font-size="10.8" text-anchor="start">C3H</text><text x="455.90" y="305.5" font-size="10.8"><tspan font-weight="normal">&#946;</tspan><tspan font-size="7.2" dy="2.2">2</tspan><tspan dy="-2.2">m</tspan><tspan font-size="7" dy="-4.6" dx="0.3">-/-</tspan></text></g></svg></body></html>
